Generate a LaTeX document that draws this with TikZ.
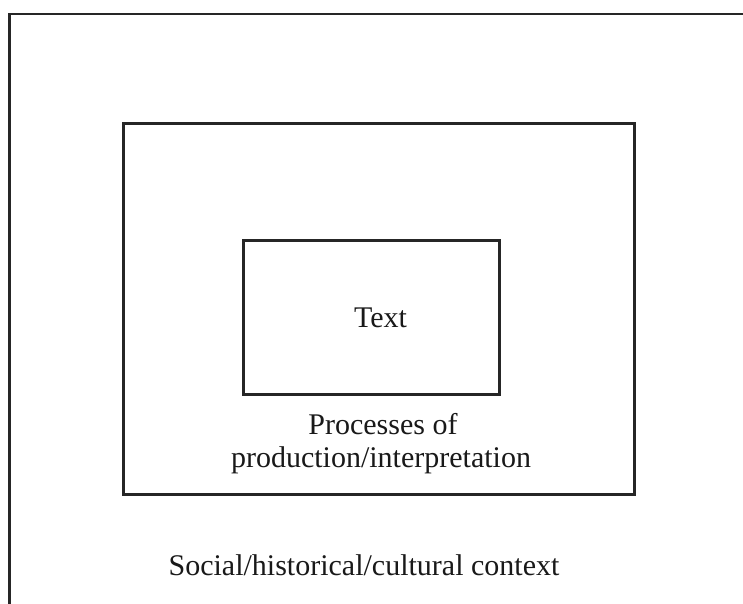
\documentclass[tikz,border=0pt]{standalone}
\usepackage{fontspec}
\setmainfont{Liberation Serif}
\begin{document}
\begin{tikzpicture}[x=1pt,y=-1pt,
  frame/.style={draw=black!85,line width=2.6pt},
  lbl/.style={font=\fontsize{30}{33}\selectfont,anchor=base,inner sep=0pt,align=center,text=black!90}]
\useasboundingbox[fill=white] (0,0) rectangle (743,604);
% outer context frame (only top and left edges visible)
\draw[frame] (9.5,604) -- (9.5,14) -- (743,14);
% processes box
\draw[frame] (123.5,123.5) rectangle (634.5,494.5);
% text box
\draw[frame] (243.5,240.5) rectangle (499.5,394.5);
\node[lbl] (text) at (380.5,327) {Text};
\node[lbl] (proc1) at (383,434) {Processes of};
\node[lbl] (proc2) at (381,467) {production/interpretation};
\node[lbl] (ctx) at (364,575) {Social/historical/cultural context};
\end{tikzpicture}
\end{document}
